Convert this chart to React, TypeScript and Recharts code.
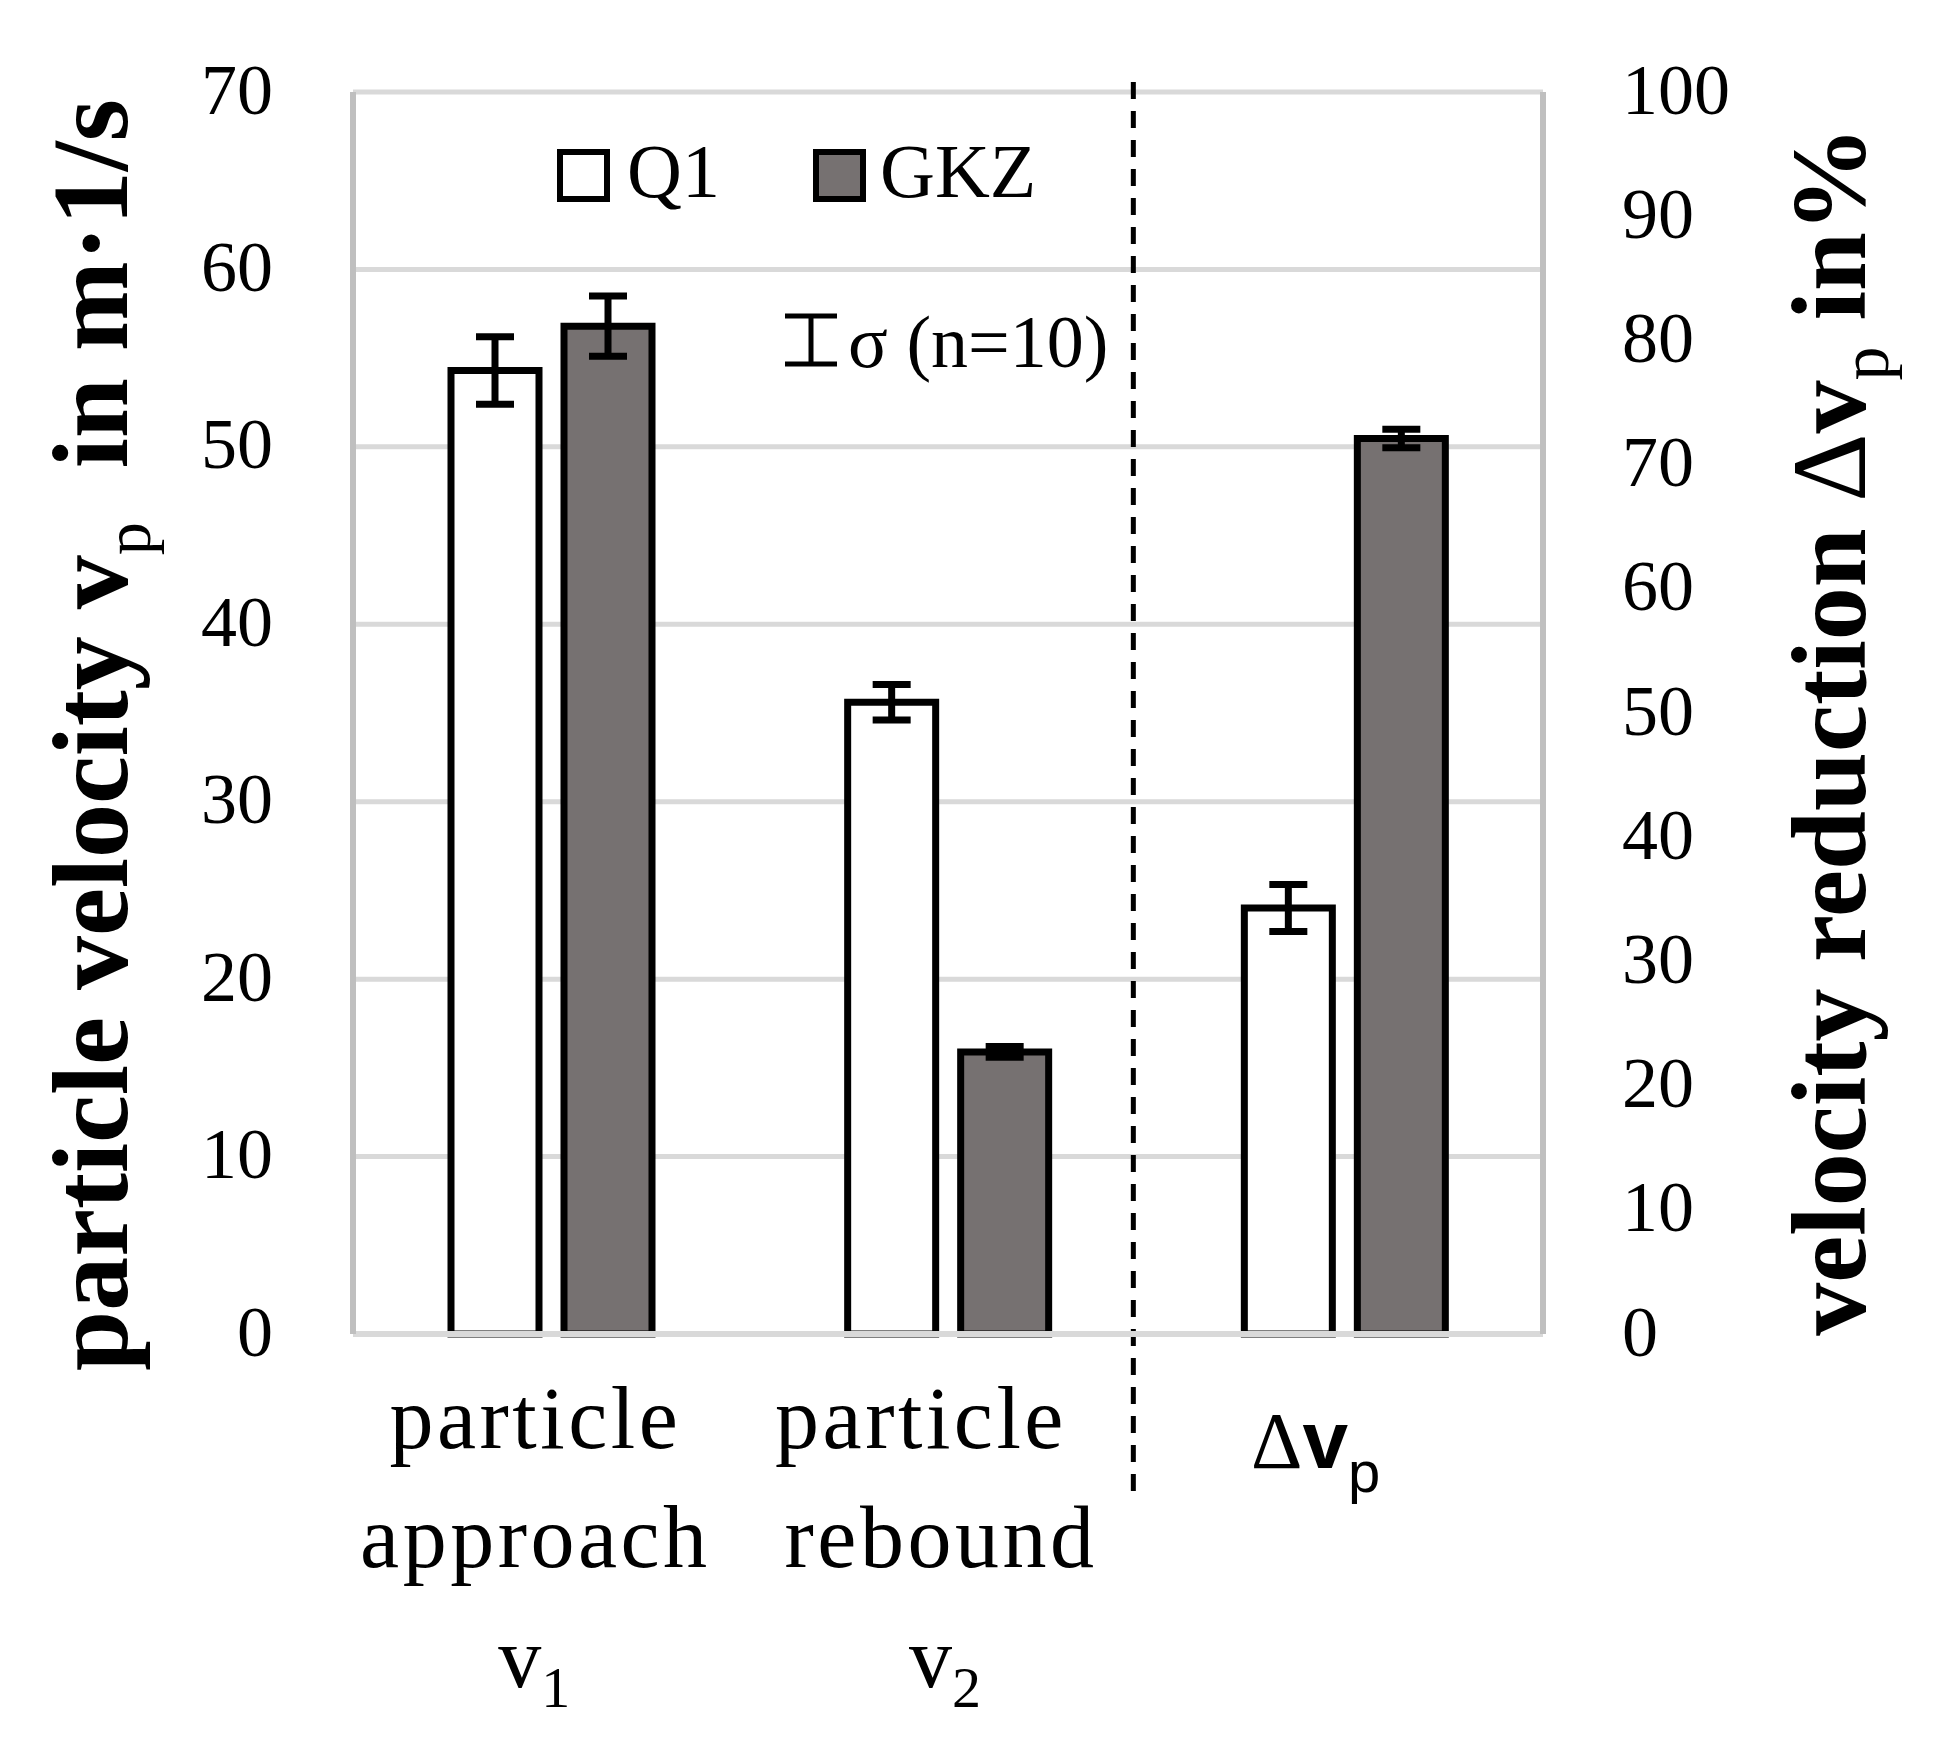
import React from 'react';
import {
  BarChart,
  Bar,
  XAxis,
  YAxis,
  CartesianGrid,
  ErrorBar,
  ReferenceLine,
  Legend,
} from 'recharts';

// ---------- data ----------
const categories = ['v1', 'v2', 'dvp'];
const categoryWords = [
  ['particle', 'approach'],
  ['particle', 'rebound'],
  [],
];
const categorySymbols = [
  { delta: '', main: 'v', sub: '1' },
  { delta: '', main: 'v', sub: '2' },
  { delta: 'Δ', main: 'v', sub: 'p' },
];

// left axis: particle velocity in m/s
const q1Velocity = [54.3, 35.6, null];
const q1VelocityErr = [1.9, 1.0, null];
const gkzVelocity = [56.8, 15.9, null];
const gkzVelocityErr = [1.7, 0.3, null];
// right axis: velocity reduction in %
const q1Reduction = [null, null, 34.3];
const q1ReductionErr = [null, null, 1.9];
const gkzReduction = [null, null, 72.1];
const gkzReductionErr = [null, null, 0.75];

const leftTicks = [0, 10, 20, 30, 40, 50, 60, 70];
const rightTicks = [0, 10, 20, 30, 40, 50, 60, 70, 80, 90, 100];

const seriesNames = ['Q1', 'GKZ'];
const seriesFills = ['#ffffff', '#767171'];
const errorLegendText = 'σ (n=10)';

const data = categories.map((cat, i) => ({
  cat,
  q1: q1Velocity[i],
  q1Err: q1VelocityErr[i],
  gkz: gkzVelocity[i],
  gkzErr: gkzVelocityErr[i],
  q1r: q1Reduction[i],
  q1rErr: q1ReductionErr[i],
  gkzr: gkzReduction[i],
  gkzrErr: gkzReductionErr[i],
}));

// ---------- layout / style ----------
const W = 1949;
const H = 1752;
const SERIF = "'Liberation Serif', 'Times New Roman', serif";
const SANS = "'Liberation Sans', Arial, sans-serif";
const STROKE = 7;
const CAT_DX = [
  [-16, -16, -17],
  [-27, -7, -3],
  [-29, -29, -29],
];

function CategoryTick(props: any) {
  const { x, y, payload } = props;
  const i = categories.indexOf(payload.value);
  if (i < 0) return null;
  const words = categoryWords[i];
  const sym = categorySymbols[i];
  const dx = CAT_DX[i];
  const common = { fill: '#000', textAnchor: 'middle' as const };
  if (!sym.delta) {
    return (
      <g>
        {words.map((w, k) => (
          <text
            key={k}
            x={x + dx[k]}
            y={y + 114 + k * 119}
            {...common}
            fontFamily={SERIF}
            fontSize={88}
            letterSpacing={3.5}
          >
            {w}
          </text>
        ))}
        <text x={x + dx[2]} y={y + 353} {...common} fontFamily={SERIF} fontSize={86}>
          <tspan>{sym.main}</tspan>
          <tspan fontSize={58} dy={20}>
            {sym.sub}
          </tspan>
        </text>
      </g>
    );
  }
  return (
    <text x={x + dx[0]} y={y + 134} {...common} fontFamily={SANS}>
      <tspan fontSize={80} fontFamily={SERIF}>{sym.delta}</tspan>
      <tspan fontSize={82} fontWeight="bold">
        {sym.main}
      </tspan>
      <tspan fontSize={58} dy={24}>
        {sym.sub}
      </tspan>
    </text>
  );
}

function LeftTitle(props: any) {
  const vb = props.viewBox || { x: 0, y: 92, width: 353, height: 1242 };
  const cx = vb.x + 127;
  const cy = vb.y + vb.height / 2 + 22;
  return (
    <text
      transform={`translate(${cx},${cy}) rotate(-90)`}
      x={0}
      y={0}
      textAnchor="middle"
      fontFamily={SERIF}
      fontWeight="bold"
      fontSize={108}
      fill="#000"
    >
      <tspan>particle velocity v</tspan>
      <tspan fontSize={66} fontWeight="normal" dy={23}>
        p
      </tspan>
      <tspan dy={-23} dx={54}>
        in m·1/s
      </tspan>
    </text>
  );
}

function RightTitle(props: any) {
  const vb = props.viewBox || { x: 1543, y: 92, width: 406, height: 1242 };
  const cx = vb.x + 322;
  const cy = vb.y + vb.height / 2 + 18;
  return (
    <text
      transform={`translate(${cx},${cy}) rotate(-90)`}
      x={0}
      y={0}
      textAnchor="middle"
      fontFamily={SERIF}
      fontWeight="bold"
      fontSize={106}
      fill="#000"
    >
      <tspan>velocity reduction </tspan>
      <tspan fontWeight="normal">Δ</tspan>
      <tspan>v</tspan>
      <tspan fontSize={68} fontWeight="normal" dy={23}>
        p
      </tspan>
      <tspan dy={-23} dx={26}>
        in%
      </tspan>
    </text>
  );
}

const LEGEND_POS = [
  { box: 560, text: 627 },
  { box: 816, text: 880 },
];

function LegendContent(props: any) {
  const payload = (props.payload || [])
    .filter((p: any) => seriesNames.includes(p.value))
    .sort((a: any, b: any) => seriesNames.indexOf(a.value) - seriesNames.indexOf(b.value));
  return (
    <svg width={W} height={420} style={{ overflow: 'visible' }}>
      {payload.map((p: any, k: number) => (
        <g key={p.value}>
          <rect
            x={LEGEND_POS[k].box}
            y={152}
            width={47}
            height={47}
            fill={seriesFills[seriesNames.indexOf(p.value)]}
            stroke="#000"
            strokeWidth={6}
          />
          <text x={LEGEND_POS[k].text} y={197} fontFamily={SERIF} fontSize={76} fill="#000">
            {p.value}
          </text>
        </g>
      ))}
      <g stroke="#000" strokeWidth={5}>
        <line x1={811} y1={316} x2={811} y2={364} />
        <line x1={785} y1={316} x2={837} y2={316} />
        <line x1={785} y1={364} x2={837} y2={364} />
      </g>
      <text x={848} y={367} fontFamily={SERIF} fontSize={74} fill="#000">
        {errorLegendText}
      </text>
    </svg>
  );
}

function DividerShape(p: any) {
  const x = Math.min(p.x1, p.x2) - 13;
  const yTop = Math.min(p.y1, p.y2) - 10;
  const yBot = Math.max(p.y1, p.y2) + 166;
  return (
    <line
      x1={x}
      y1={yTop}
      x2={x}
      y2={yBot}
      stroke="#000"
      strokeWidth={5}
      strokeDasharray="17 12"
    />
  );
}

const tickStyle = { fontFamily: SERIF, fontSize: 72, fill: '#000', dy: -4 };

export default function App() {
  return (
    <div style={{ position: 'absolute', left: 0, top: 0, width: W, height: H, background: '#fff' }}>
      <BarChart
        width={W}
        height={H}
        data={data}
        margin={{ top: 92, right: 0, bottom: 0, left: 0 }}
        barSize={88}
        barGap={25}
      >
        <CartesianGrid
          xAxisId="a"
          yAxisId="left"
          vertical={false}
          stroke="#d9d9d9"
          strokeWidth={5}
        />
        <XAxis
          xAxisId="a"
          dataKey="cat"
          height={418}
          interval={0}
          tickLine={false}
          tickSize={0}
          tickMargin={0}
          tick={<CategoryTick />}
          axisLine={{ stroke: '#d9d9d9', strokeWidth: 6 }}
        />
        <XAxis
          xAxisId="b"
          dataKey="cat"
          orientation="top"
          height={0}
          tick={false}
          tickLine={false}
          axisLine={{ stroke: '#bfbfbf', strokeWidth: 6 }}
        />
        <YAxis
          yAxisId="left"
          domain={[0, 70]}
          ticks={leftTicks}
          interval={0}
          width={353}
          tickLine={false}
          tickSize={0}
          tickMargin={80}
          tick={tickStyle}
          axisLine={{ stroke: '#bfbfbf', strokeWidth: 6 }}
          label={<LeftTitle />}
        />
        <YAxis
          yAxisId="right"
          orientation="right"
          domain={[0, 100]}
          ticks={rightTicks}
          interval={0}
          width={406}
          tickLine={false}
          tickSize={0}
          tickMargin={79}
          tick={tickStyle}
          axisLine={{ stroke: '#bfbfbf', strokeWidth: 6 }}
          label={<RightTitle />}
        />
        <Bar
          xAxisId="a"
          yAxisId="left"
          dataKey="q1"
          name={seriesNames[0]}
          fill={seriesFills[0]}
          stroke="#000"
          strokeWidth={STROKE}
          isAnimationActive={false}
        >
          <ErrorBar dataKey="q1Err" width={19} stroke="#000" strokeWidth={STROKE} direction="y" isAnimationActive={false} />
        </Bar>
        <Bar
          xAxisId="a"
          yAxisId="left"
          dataKey="gkz"
          name={seriesNames[1]}
          fill={seriesFills[1]}
          stroke="#000"
          strokeWidth={STROKE}
          isAnimationActive={false}
        >
          <ErrorBar dataKey="gkzErr" width={19} stroke="#000" strokeWidth={STROKE} direction="y" isAnimationActive={false} />
        </Bar>
        <Bar
          xAxisId="b"
          yAxisId="right"
          dataKey="q1r"
          name="Q1 reduction"
          legendType="none"
          fill={seriesFills[0]}
          stroke="#000"
          strokeWidth={STROKE}
          isAnimationActive={false}
        >
          <ErrorBar dataKey="q1rErr" width={19} stroke="#000" strokeWidth={STROKE} direction="y" isAnimationActive={false} />
        </Bar>
        <Bar
          xAxisId="b"
          yAxisId="right"
          dataKey="gkzr"
          name="GKZ reduction"
          legendType="none"
          fill={seriesFills[1]}
          stroke="#000"
          strokeWidth={STROKE}
          isAnimationActive={false}
        >
          <ErrorBar dataKey="gkzrErr" width={19} stroke="#000" strokeWidth={STROKE} direction="y" isAnimationActive={false} />
        </Bar>
        <ReferenceLine
          xAxisId="a"
          yAxisId="left"
          x="dvp"
          position="start"
          ifOverflow="visible"
          stroke="#000"
          strokeWidth={5}
          strokeDasharray="17 12"
          shape={DividerShape}
        />
        <Legend
          layout="horizontal"
          verticalAlign="middle"
          align="center"
          wrapperStyle={{ position: 'absolute', left: 0, top: 0, width: W, height: 420, pointerEvents: 'none' }}
          content={<LegendContent />}
        />
      </BarChart>
    </div>
  );
}
